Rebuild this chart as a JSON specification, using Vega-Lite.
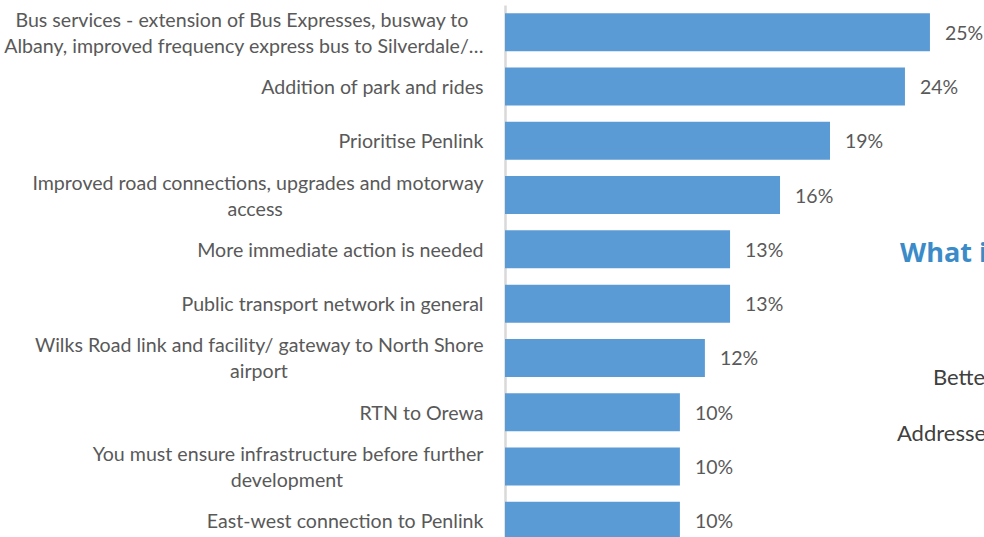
{
  "$schema": "https://vega.github.io/schema/vega-lite/v6.json",
  "autosize": {"type": "none"},
  "padding": {"left": 505, "top": 5, "right": 0, "bottom": 0},
  "width": 479,
  "height": 532,
  "background": "white",
  "config": {"view": {"stroke": null}, "font": "Lato"},
  "datasets": {
    "responses": [
      {"item": "Bus services - extension of Bus Expresses, busway to|Albany, improved frequency express bus to Silverdale/…", "share": 0.25},
      {"item": "Addition of park and rides", "share": 0.2353},
      {"item": "Prioritise Penlink", "share": 0.1912},
      {"item": "Improved road connections, upgrades and motorway|access", "share": 0.1618},
      {"item": "More immediate action is needed", "share": 0.1324},
      {"item": "Public transport network in general", "share": 0.1324},
      {"item": "Wilks Road link and facility/ gateway to North Shore|airport", "share": 0.1176},
      {"item": "RTN to Orewa", "share": 0.1029},
      {"item": "You must ensure infrastructure before further|development", "share": 0.1029},
      {"item": "East-west connection to Penlink", "share": 0.1029}
    ]
  },
  "encoding": {
    "y": {
      "field": "item",
      "type": "nominal",
      "sort": null,
      "scale": {"range": [0, 543], "paddingInner": 0.3, "paddingOuter": 0.15},
      "axis": {
        "title": null,
        "ticks": false,
        "grid": false,
        "domainColor": "#D9D9D9",
        "domainWidth": 2.5,
        "labelFont": "Lato",
        "labelFontSize": 19.6,
        "labelColor": "#595959",
        "labelPadding": 22,
        "labelLimit": 0,
        "labelLineHeight": 26,
        "labelAlign": "right",
        "labelBaseline": "middle",
        "labelOffset": {"condition": {"test": "indexof(datum.value, '|') >= 0", "value": -11.5}, "value": 1.5},
        "labelExpr": "indexof(datum.value, '|') < 0 ? datum.value : [split(datum.value, '|')[0] + pad('', indexof(datum.value, 'Bus services') == 0 ? 3 : 0, '\u00a0') + '\u200b', split(datum.value, '|')[1] + pad('', indexof(datum.value, 'You must') == 0 ? 28 : (indexof(datum.value, 'Bus services') == 0 ? 0 : (indexof(datum.value, 'Improved') == 0 ? 40 : 39)), '\u00a0') + '\u200b']"
      }
    },
    "x": {
      "field": "share",
      "type": "quantitative",
      "scale": {"domain": [0, 0.2818], "nice": false, "zero": true},
      "axis": null
    }
  },
  "layer": [
    {
      "data": {"name": "responses"},
      "mark": {"type": "bar", "color": "#5B9BD5"}
    },
    {
      "data": {"name": "responses"},
      "mark": {"type": "text", "align": "left", "baseline": "middle", "dx": 15, "dy": 1.5, "fontSize": 19.5, "font": "Lato", "color": "#595959"},
      "encoding": {"text": {"field": "share", "type": "quantitative", "format": ".0%"}}
    },
    {
      "data": {"values": [{"item": "More immediate action is needed", "share": 0.2324, "label": "What i"}]},
      "mark": {"type": "text", "align": "left", "baseline": "middle", "dy": 5, "fontSize": 27, "fontWeight": "bold", "font": "Open Sans", "color": "#3A8BC8"},
      "encoding": {"text": {"field": "label"}}
    },
    {
      "data": {"values": [{"item": "Wilks Road link and facility/ gateway to North Shore|airport", "share": 0.2518, "label": "Bette"}]},
      "mark": {"type": "text", "align": "left", "baseline": "middle", "dy": 20, "fontSize": 22, "font": "Lato", "color": "#404040"},
      "encoding": {"text": {"field": "label"}}
    },
    {
      "data": {"values": [{"item": "RTN to Orewa", "share": 0.2306, "label": "Addresse"}]},
      "mark": {"type": "text", "align": "left", "baseline": "middle", "dy": 22, "fontSize": 22, "font": "Lato", "color": "#404040"},
      "encoding": {"text": {"field": "label"}}
    }
  ]
}
